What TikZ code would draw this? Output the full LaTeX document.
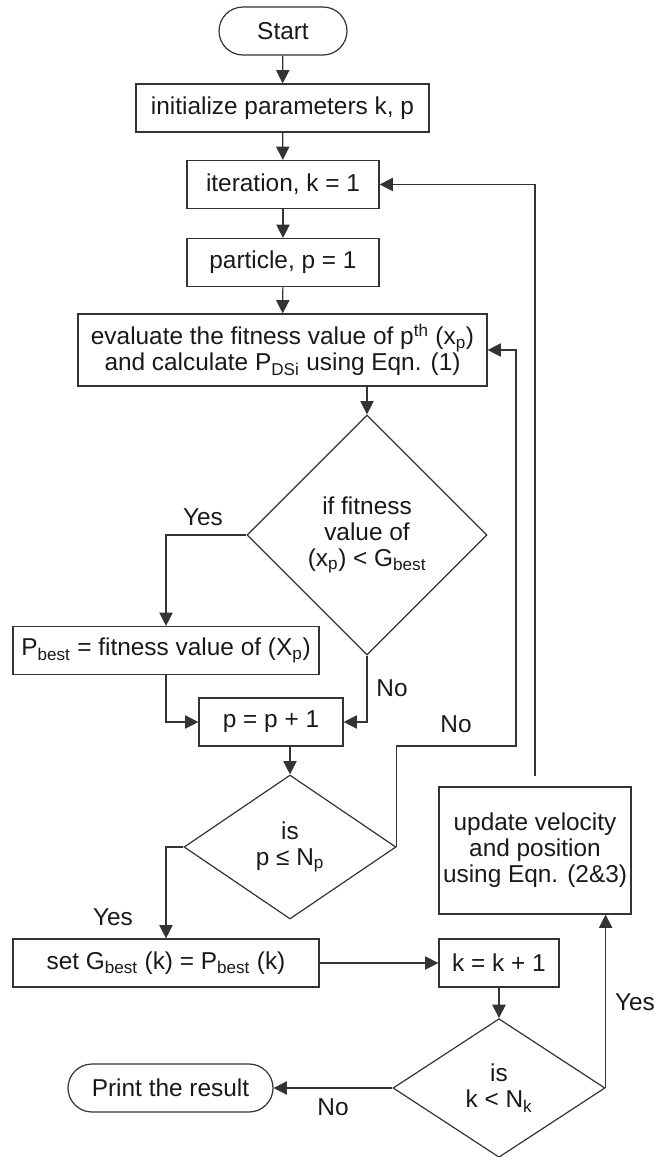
\documentclass[tikz,border=0pt]{standalone}
\usepackage{fontspec}
\setmainfont{Liberation Sans}
\usetikzlibrary{shapes.geometric,arrows.meta}
\begin{document}
\begin{tikzpicture}[x=0.75pt,y=-0.75pt,
  every node/.style={font=\fontsize{18.3}{19.5}\selectfont, text=black!90},
  box/.style={draw=black!80, line width=0.9pt, rectangle, align=center, minimum height=36pt, inner sep=2pt},
  term/.style={box, rounded corners=18pt},
  dec/.style={draw=black!80, line width=0.9pt, diamond, align=center, inner sep=0pt},
  arr/.style={draw=black!80, line width=0.9pt, -{Triangle[length=10pt,width=10pt]}},
  lbl/.style={inner sep=0pt}
]
\useasboundingbox (0,0) rectangle (654,1157);

\node[term, minimum width=96pt] (start) at (283,31) {Start};
\node[box, minimum width=219.75pt] (init) at (282.5,108) {initialize parameters k, p};
\node[box, minimum width=144pt] (iter) at (283,184.5) {iteration, k = 1};
\node[box, minimum width=144pt] (part) at (283,262.5) {particle, p = 1};
\node[box, minimum width=306.75pt, minimum height=54pt] (eval) at (282.5,350)
  {evaluate the fitness value of p\textsuperscript{th} (x\textsubscript{p})\\and calculate P\textsubscript{DSi} using Eqn. (1)};
\node[dec, minimum width=180pt, minimum height=180pt] (d1) at (367,535)
  {if fitness\\value of\\(x\textsubscript{p}) < G\textsubscript{best}};
\node[box, minimum width=229.5pt] (pbest) at (166,650.5) {P\textsubscript{best} = fitness value of (X\textsubscript{p})};
\node[box, minimum width=108pt] (pp) at (271,722) {p = p + 1};
\node[dec, minimum width=159pt, minimum height=108pt] (d2) at (290,847) {is\\p ≤ N\textsubscript{p}};
\node[box, minimum width=229.5pt] (set) at (166,963) {set G\textsubscript{best} (k) = P\textsubscript{best} (k)};
\node[box, minimum width=90pt] (kk) at (499,963) {k = k + 1};
\node[dec, minimum width=159pt, minimum height=104pt] (d3) at (499,1088) {is\\k < N\textsubscript{k}};
\node[term, minimum width=153.75pt] (print) at (170.5,1088) {Print the result};
\node[box, minimum width=144pt, minimum height=95.25pt] (upd) at (535,850.5)
  {update velocity\\and position\\using Eqn. (2\&3)};

\coordinate (loopA) at (516,746);

\draw[arr] (start) -- (init);
\draw[arr] (init) -- (iter);
\draw[arr] (iter) -- (part);
\draw[arr] (part) -- (eval);
\draw[arr] (d1.north |- eval.south) -- (d1.north);
\draw[arr] (d1.west) -| (pbest.north);
\draw[arr] (pbest.south) |- (pp.west);
\draw[arr] (d1.south) |- (pp.east);
\draw[arr] (d2.north |- pp.south) -- (d2.north);
\draw[arr] (d2.west) -| (set.north);
\draw[arr] (d2.east) |- (loopA) |- (eval.east);
\draw[arr] (set.east) -- (kk.west);
\draw[arr] (kk.south) -- (d3.north);
\draw[arr] (d3.west) -- (print.east);
\draw[arr] (d3.east) -- (d3.east |- upd.south);
\draw[arr, shorten <=8pt] (upd.north) |- (iter.east);

\node[lbl] (y1) at (203,517) {Yes};
\node[lbl] (n1) at (392,688) {No};
\node[lbl] (n2) at (456,724) {No};
\node[lbl] (y2) at (113,917) {Yes};
\node[lbl] (n3) at (333,1107) {No};
\node[lbl] (y3) at (635,1002) {Yes};
\end{tikzpicture}
\end{document}
